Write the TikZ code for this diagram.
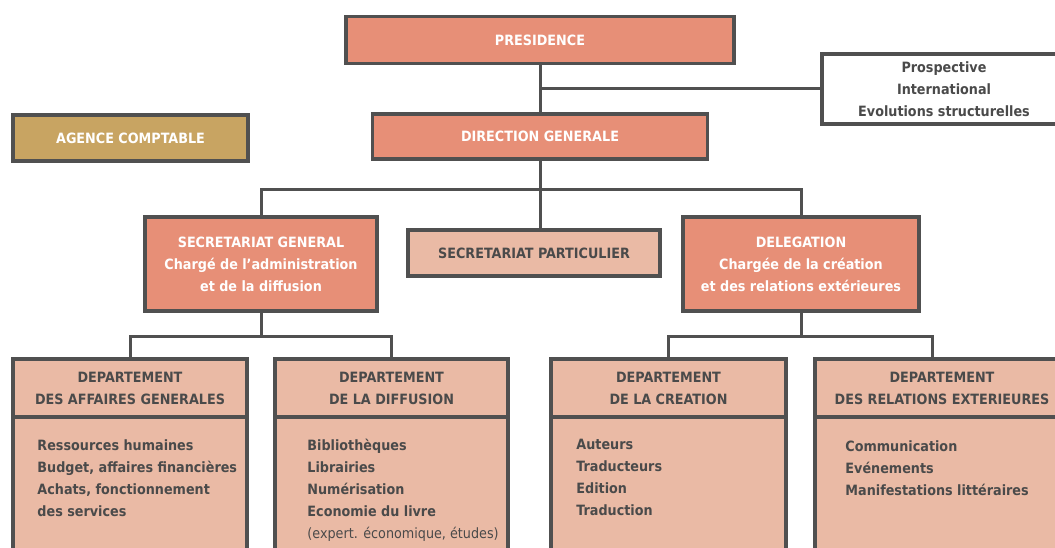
\documentclass[tikz,border=0pt]{standalone}
\usepackage{fontspec}
\setmainfont{DejaVu Sans Condensed}
\usepackage{tikz}
\usetikzlibrary{positioning}
\usepackage{xcolor}
\definecolor{boxline}{HTML}{505050}
\definecolor{salmon}{HTML}{E78F77}
\definecolor{lightsalmon}{HTML}{EABAA5}
\definecolor{gold}{HTML}{C8A462}
\definecolor{textgray}{HTML}{4A4A4A}

\begin{document}
\begin{tikzpicture}[x=1pt, y=-1pt,
    box/.style={draw=boxline, line width=3.5pt, inner sep=0pt, align=center,
        font=\fontsize{14.2}{22}\selectfont\bfseries},
    darkbox/.style={box, fill=salmon, text=white},
    lightbox/.style={box, fill=lightsalmon, text=textgray},
    link/.style={draw=boxline, line width=3pt},
    itemlist/.style={align=left, text=textgray, inner sep=0pt,
        font=\fontsize{14.2}{22}\selectfont\bfseries}]
    \useasboundingbox (0,0) rectangle (1055,548);
    \clip (0,0) rectangle (1055,548);

      % Top
      \node[darkbox, minimum width=388pt, minimum height=47pt] (pres) at (540, 40) {PRESIDENCE};
      \node[box, fill=white, text=textgray, minimum width=244pt, minimum height=70pt] (prosp) at (944, 89)
          {Prospective\\International\\Evolutions structurelles};
      \node[box, fill=gold, text=white, minimum width=235pt, minimum height=46pt] (agence) at (130.5, 138) {AGENCE COMPTABLE};
      \node[darkbox, minimum width=335pt, minimum height=45pt] (dg) at (540, 136.5) {DIRECTION GENERALE};

      % Second level
      \node[darkbox, minimum width=232pt, minimum height=94pt] (sg) at (261, 264)
          {SECRETARIAT GENERAL\\Chargé de l’administration\\et de la diffusion};
      \node[lightbox, minimum width=252pt, minimum height=46pt] (sp) at (534, 253) {SECRETARIAT PARTICULIER};
      \node[darkbox, minimum width=236pt, minimum height=94pt] (del) at (801, 264)
          {DELEGATION\\Chargée de la création\\et des relations extérieures};

      % Departements (header)
      \node[lightbox, minimum width=234pt, minimum height=58pt] (agH) at (130, 388) {DEPARTEMENT\\DES AFFAIRES GENERALES};
      \node[lightbox, minimum width=233pt, minimum height=58pt] (difH) at (391.5, 388) {DEPARTEMENT\\DE LA DIFFUSION};
      \node[lightbox, minimum width=235pt, minimum height=58pt] (creH) at (668.5, 388) {DEPARTEMENT\\DE LA CREATION};
      \node[lightbox, minimum width=254pt, minimum height=58pt] (relH) at (942, 388) {DEPARTEMENT\\DES RELATIONS EXTERIEURES};

      % Departements (body)
      \node[lightbox, minimum width=234pt, minimum height=143pt] (agB) at (130, 488.5) {};
      \node[lightbox, minimum width=233pt, minimum height=143pt] (difB) at (391.5, 488.5) {};
      \node[lightbox, minimum width=235pt, minimum height=143pt] (creB) at (668.5, 488.5) {};
      \node[lightbox, minimum width=254pt, minimum height=143pt] (relB) at (942, 488.5) {};

      \node[itemlist, below right=24pt and 26pt of agB.north west] (agL)
          {Ressources humaines\\Budget, affaires financières\\Achats, fonctionnement\\des services};
      \node[itemlist, below right=24pt and 34pt of difB.north west] (difL)
          {Bibliothèques\\Librairies\\Numérisation\\Economie du livre\\{\mdseries(expert. économique, études)}};
      \node[itemlist, below right=24pt and 27pt of creB.north west] (creL)
          {Auteurs\\Traducteurs\\Edition\\Traduction};
      \node[itemlist, below right=25pt and 32pt of relB.north west] (relL)
          {Communication\\Evénements\\Manifestations littéraires};

      % Links
      \draw[link] (pres) -- (dg);
      \draw[link] (pres.south |- prosp.west) -- (prosp.west);
      \draw[link] (dg.south) -- (dg.south |- sp.north);
      \draw[link] (sg.north) -- ++(0,-26) -| (del.north);
      \draw[link] (sg.south) -- ++(0,24) coordinate (sgfork);
      \draw[link] (agH.north) |- (sgfork) -| (difH.north);
      \draw[link] (del.south) -- ++(0,24) coordinate (delfork);
      \draw[link] (creH.north) |- (delfork) -| ([xshift=-10pt]relH.north);
  \end{tikzpicture}
\end{document}
